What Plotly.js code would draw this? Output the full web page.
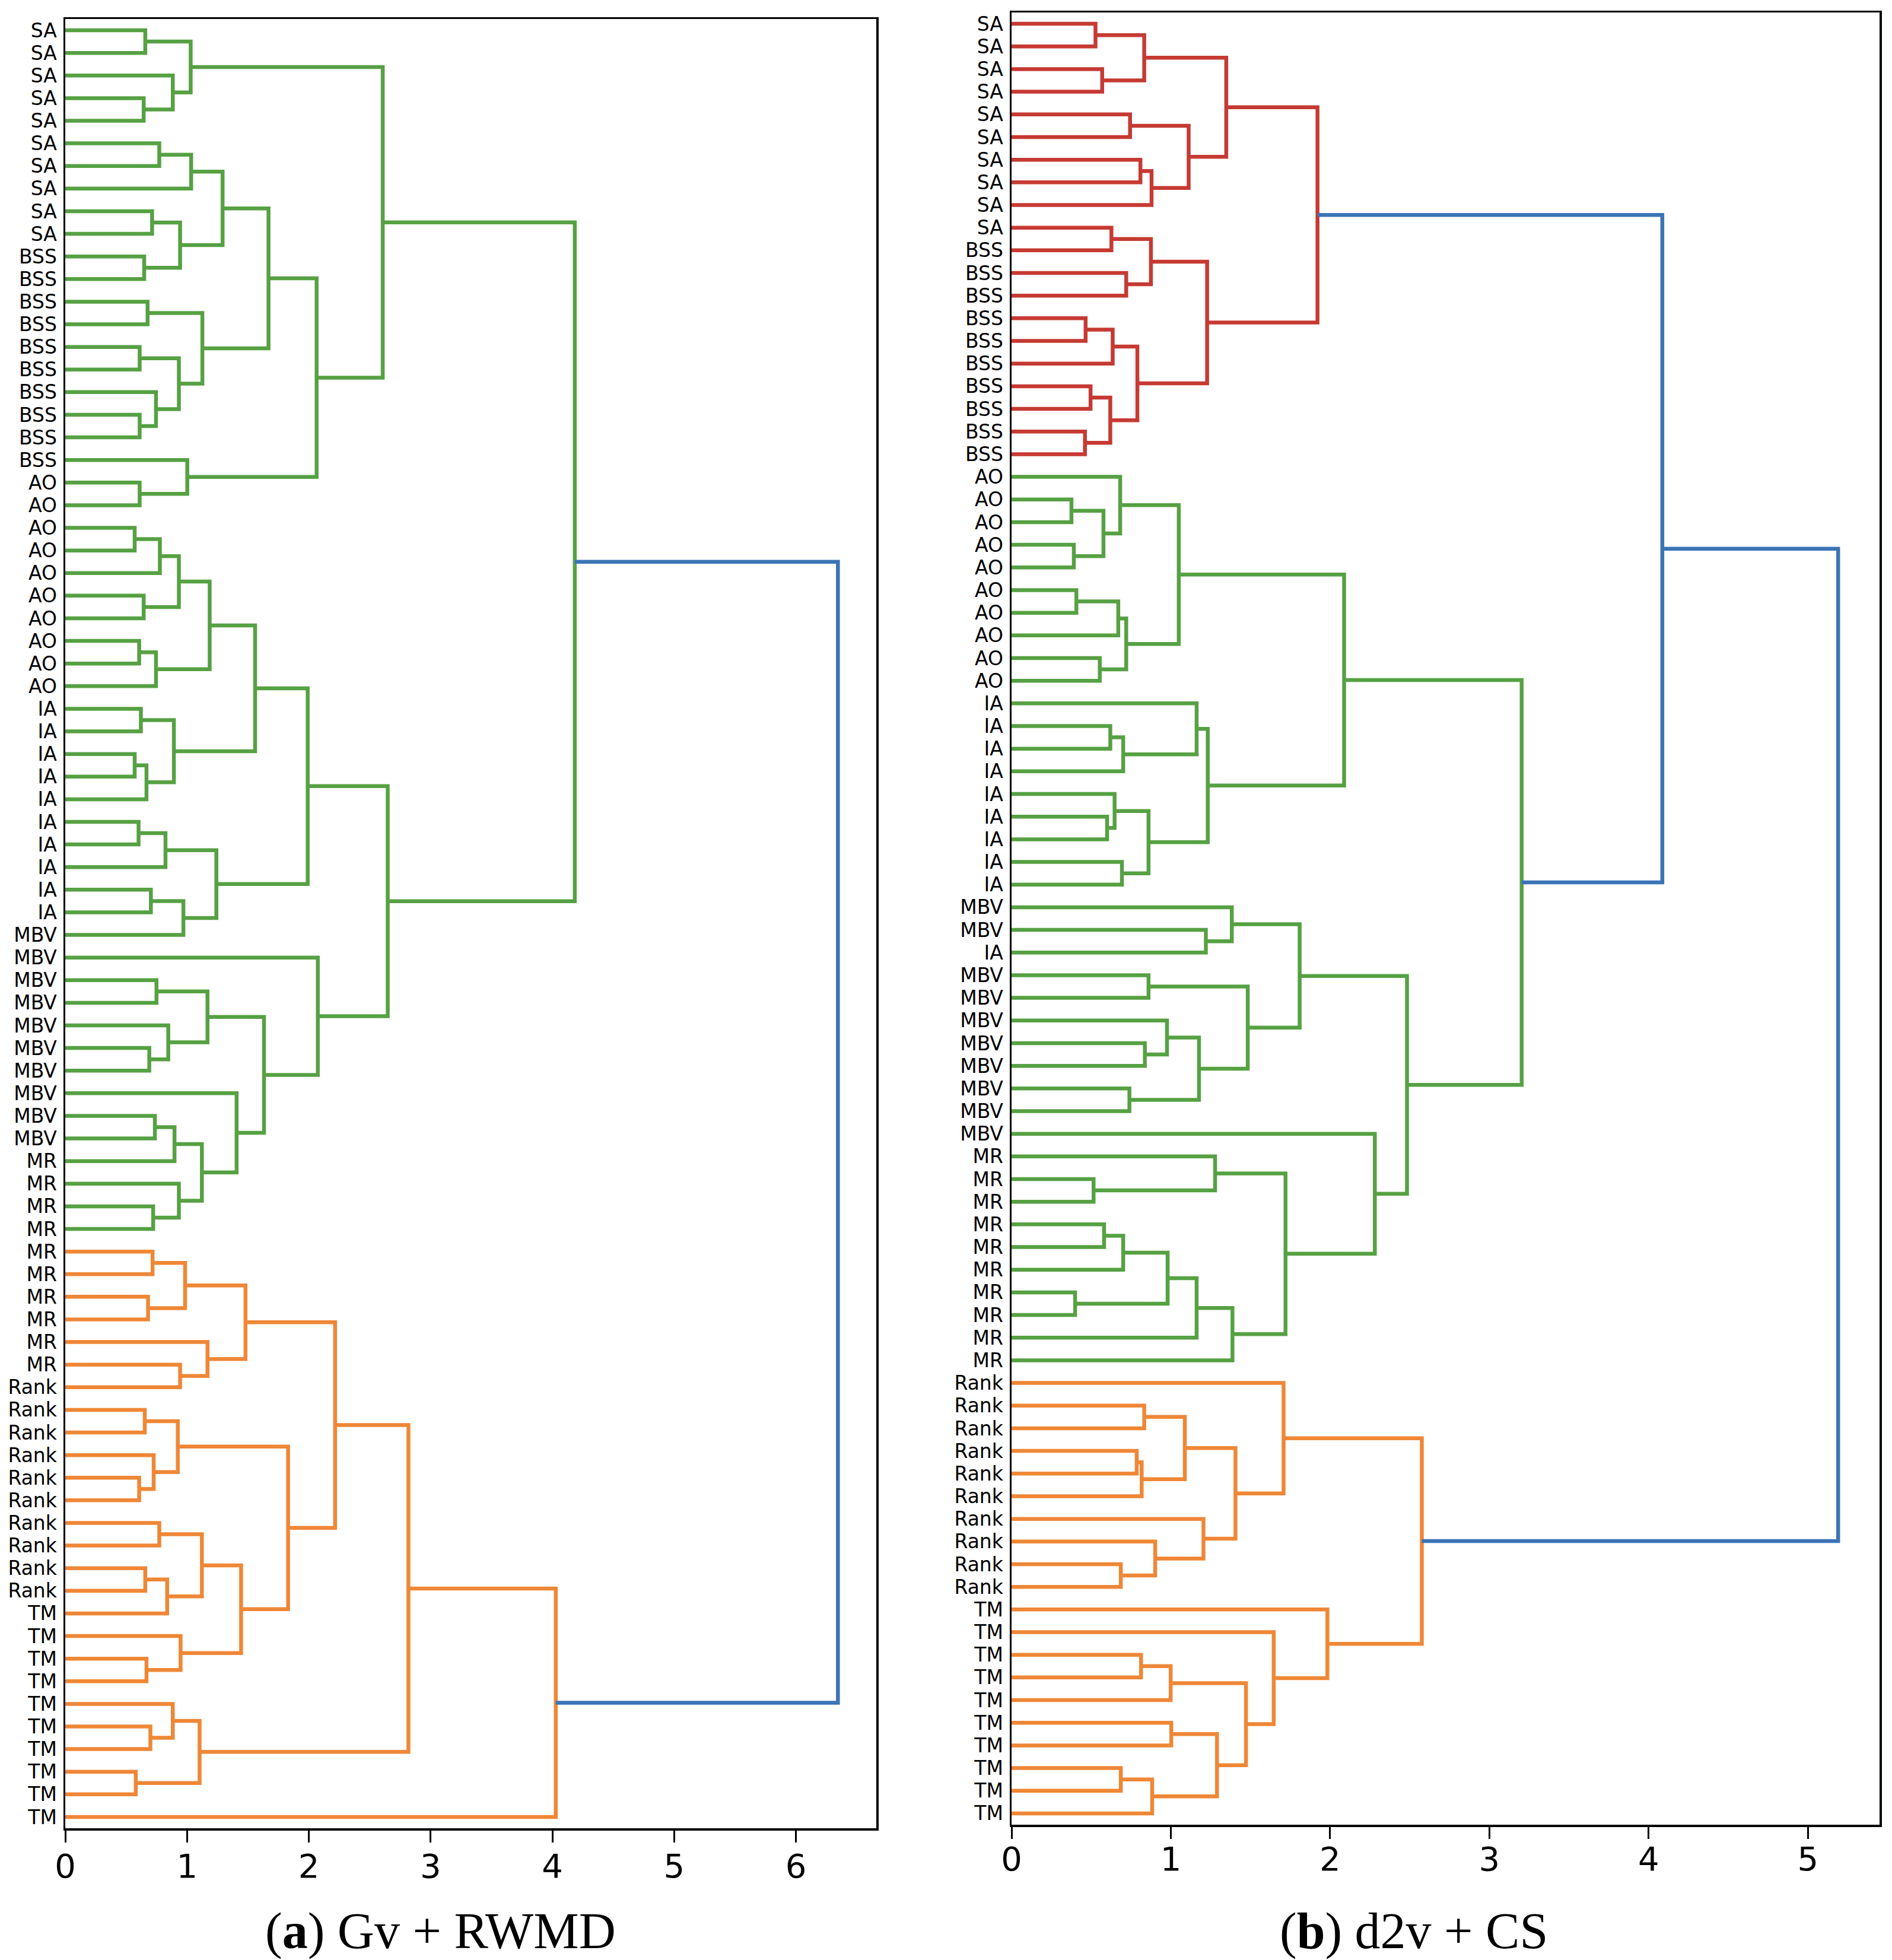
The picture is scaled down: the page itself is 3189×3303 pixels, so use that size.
<!DOCTYPE html>
<html>
<head>
<meta charset="utf-8">
<script src="https://cdn.plot.ly/plotly-3.0.1.min.js"></script>
<style>html,body{margin:0;padding:0;background:#fff;}</style>
</head>
<body>
<div id="chart" style="width:3189px;height:3303px;"></div>
<script>
// ---------- DATA ----------
// Leaf labels (top to bottom)
const leavesA = [
  "SA","SA","SA","SA","SA","SA","SA","SA","SA","SA",
  "BSS","BSS","BSS","BSS","BSS","BSS","BSS","BSS","BSS","BSS",
  "AO","AO","AO","AO","AO","AO","AO","AO","AO","AO",
  "IA","IA","IA","IA","IA","IA","IA","IA","IA","IA",
  "MBV","MBV","MBV","MBV","MBV","MBV","MBV","MBV","MBV","MBV",
  "MR","MR","MR","MR","MR","MR","MR","MR","MR","MR",
  "Rank","Rank","Rank","Rank","Rank","Rank","Rank","Rank","Rank","Rank",
  "TM","TM","TM","TM","TM","TM","TM","TM","TM","TM"
];
const leavesB = [
  "SA","SA","SA","SA","SA","SA","SA","SA","SA","SA",
  "BSS","BSS","BSS","BSS","BSS","BSS","BSS","BSS","BSS","BSS",
  "AO","AO","AO","AO","AO","AO","AO","AO","AO","AO",
  "IA","IA","IA","IA","IA","IA","IA","IA","IA",
  "MBV","MBV","IA",
  "MBV","MBV","MBV","MBV","MBV","MBV","MBV","MBV",
  "MR","MR","MR","MR","MR","MR","MR","MR","MR","MR",
  "Rank","Rank","Rank","Rank","Rank","Rank","Rank","Rank","Rank","Rank",
  "TM","TM","TM","TM","TM","TM","TM","TM","TM","TM"
];
// Merges (linkage style): [childA, childB, distance, cluster]
// child index < 80 -> leaf, >= 80 -> merge (index - 80)
const mergesA = [
  [0,1,0.657,"g"],[3,4,0.644,"g"],[2,81,0.883,"g"],[80,82,1.030,"g"],
  [5,6,0.772,"g"],[84,7,1.034,"g"],[8,9,0.713,"g"],[10,11,0.648,"g"],
  [86,87,0.943,"g"],[85,88,1.292,"g"],[12,13,0.676,"g"],[14,15,0.611,"g"],
  [17,18,0.611,"g"],[16,92,0.745,"g"],[91,93,0.933,"g"],[90,94,1.126,"g"],
  [89,95,1.669,"g"],[20,21,0.611,"g"],[19,97,1.002,"g"],[96,98,2.064,"g"],
  [83,99,2.607,"g"],[22,23,0.570,"g"],[101,24,0.777,"g"],[25,26,0.644,"g"],
  [102,103,0.933,"g"],[27,28,0.607,"g"],[105,29,0.745,"g"],[104,106,1.186,"g"],
  [30,31,0.621,"g"],[32,33,0.570,"g"],[109,34,0.667,"g"],[108,110,0.892,"g"],
  [107,111,1.559,"g"],[35,36,0.602,"g"],[113,37,0.823,"g"],[38,39,0.703,"g"],
  [115,40,0.970,"g"],[114,116,1.241,"g"],[112,117,1.991,"g"],[42,43,0.749,"g"],
  [45,46,0.690,"g"],[44,120,0.846,"g"],[119,121,1.168,"g"],[48,49,0.736,"g"],
  [123,50,0.897,"g"],[52,53,0.722,"g"],[51,125,0.933,"g"],[124,126,1.122,"g"],
  [47,127,1.407,"g"],[122,128,1.632,"g"],[41,129,2.074,"g"],[118,130,2.648,"g"],
  [100,131,4.184,"g"],
  [54,55,0.717,"o"],[56,57,0.680,"o"],[133,134,0.984,"o"],[59,60,0.943,"o"],
  [58,136,1.168,"o"],[135,137,1.480,"o"],[61,62,0.653,"o"],[64,65,0.607,"o"],
  [63,140,0.726,"o"],[139,141,0.924,"o"],[66,67,0.772,"o"],[68,69,0.657,"o"],
  [144,70,0.837,"o"],[143,145,1.122,"o"],[72,73,0.667,"o"],[71,147,0.947,"o"],
  [146,148,1.444,"o"],[142,149,1.830,"o"],[138,150,2.216,"o"],[75,76,0.699,"o"],
  [74,152,0.883,"o"],[77,78,0.579,"o"],[153,154,1.103,"o"],[151,155,2.818,"o"],
  [156,79,4.028,"o"],
  [132,157,6.345,"b"]
];
const mergesB = [
  [0,1,0.527,"r"],[2,3,0.569,"r"],[80,81,0.833,"r"],[4,5,0.744,"r"],
  [6,7,0.809,"r"],[84,8,0.879,"r"],[83,85,1.112,"r"],[82,86,1.348,"r"],
  [9,10,0.627,"r"],[11,12,0.720,"r"],[88,89,0.875,"r"],[13,14,0.465,"r"],
  [91,15,0.635,"r"],[16,17,0.496,"r"],[18,19,0.461,"r"],[93,94,0.620,"r"],
  [92,95,0.790,"r"],[90,96,1.228,"r"],[87,97,1.921,"r"],
  [21,22,0.376,"g"],[23,24,0.391,"g"],[99,100,0.577,"g"],[20,101,0.682,"g"],
  [25,26,0.407,"g"],[103,27,0.670,"g"],[28,29,0.554,"g"],[104,105,0.720,"g"],
  [102,106,1.050,"g"],[31,32,0.620,"g"],[108,33,0.701,"g"],[30,109,1.162,"g"],
  [35,36,0.600,"g"],[34,111,0.647,"g"],[37,38,0.693,"g"],[112,113,0.860,"g"],
  [110,114,1.232,"g"],[107,115,2.088,"g"],[40,41,1.220,"g"],[39,117,1.383,"g"],
  [42,43,0.860,"g"],[45,46,0.837,"g"],[44,120,0.976,"g"],[47,48,0.740,"g"],
  [121,122,1.177,"g"],[119,123,1.483,"g"],[118,124,1.809,"g"],[51,52,0.515,"g"],
  [50,126,1.278,"g"],[53,54,0.581,"g"],[128,55,0.701,"g"],[56,57,0.399,"g"],
  [129,130,0.980,"g"],[131,58,1.162,"g"],[132,59,1.387,"g"],[127,133,1.720,"g"],
  [49,134,2.281,"g"],[125,135,2.483,"g"],[116,136,3.203,"g"],
  [61,62,0.833,"o"],[63,64,0.786,"o"],[139,65,0.817,"o"],[138,140,1.088,"o"],
  [68,69,0.686,"o"],[67,142,0.902,"o"],[66,143,1.205,"o"],[141,144,1.406,"o"],
  [60,145,1.708,"o"],[72,73,0.813,"o"],[147,74,0.999,"o"],[75,76,1.003,"o"],
  [77,78,0.686,"o"],[150,79,0.883,"o"],[149,151,1.290,"o"],[148,152,1.472,"o"],
  [71,153,1.646,"o"],[70,154,1.983,"o"],[146,155,2.576,"o"],
  [98,137,4.086,"b"],[157,156,5.190,"b"]
];
const xTicksA = [0,1,2,3,4,5,6];
const xTicksB = [0,1,2,3,4,5];
const captionA = "(<b>a</b>) Gv + RWMD";
const captionB = "(<b>b</b>) d2v + CS";

// ---------- STYLE ----------
const clusterColor = {g:"#56a143", o:"#ef8736", b:"#3b74b6", r:"#c63a33"};
const LW = 6.5;

function buildTraces(labels, merges, xa, ya) {
  const n = labels.length;
  const pos = [], hgt = [];
  for (let i = 0; i < n; i++) { pos[i] = i; hgt[i] = 0; }
  const segs = {};
  const order = [];
  merges.forEach((m, k) => {
    const [a, b, h, c] = m;
    const id = n + k;
    pos[id] = (pos[a] + pos[b]) / 2;
    hgt[id] = h;
    if (!segs[c]) { segs[c] = {x: [], y: []}; order.push(c); }
    segs[c].x.push(hgt[a], h, h, hgt[b], null);
    segs[c].y.push(pos[a], pos[a], pos[b], pos[b], null);
  });
  return order.map(c => ({
    type: "scatter", mode: "lines", x: segs[c].x, y: segs[c].y,
    xaxis: xa, yaxis: ya, hoverinfo: "skip", showlegend: false,
    line: {color: clusterColor[c], width: LW, shape: "linear"},
    connectgaps: false
  }));
}

const traces = [].concat(
  buildTraces(leavesA, mergesA, "x", "y"),
  buildTraces(leavesB, mergesB, "x2", "y2")
);

const W = 3189, H = 3303;
const tickFont = {family: "DejaVu Sans", size: 56, color: "#000"};
const leafFont = {family: "DejaVu Sans", size: 33, color: "#000"};

function xAxis(domainPx, maxV, ticks, anchor, standoff) {
  return {
    domain: [domainPx[0] / W, domainPx[1] / W],
    range: [0, maxV], anchor: anchor,
    tickmode: "array", tickvals: ticks, ticktext: ticks.map(String),
    ticks: "outside", ticklen: 20, tickwidth: 3, tickcolor: "#000",
    tickfont: tickFont, ticklabelstandoff: standoff,
    showgrid: false, zeroline: false,
    showline: true, mirror: true, linecolor: "#000", linewidth: 3.5
  };
}
function yAxis(domainPx, labels, anchor) {
  return {
    domain: [1 - domainPx[1] / H, 1 - domainPx[0] / H],
    range: [labels.length - 0.5, -0.5], anchor: anchor,
    tickmode: "array", tickvals: labels.map((_, i) => i), ticktext: labels,
    ticks: "", tickfont: leafFont, ticklabelstandoff: 4,
    showgrid: false, zeroline: false,
    showline: true, mirror: true, linecolor: "#000", linewidth: 3.5
  };
}

const layout = {
  width: W, height: H,
  margin: {l: 0, r: 0, t: 0, b: 0},
  paper_bgcolor: "#fff", plot_bgcolor: "#fff",
  showlegend: false,
  xaxis: xAxis([110, 1477], 6.66, xTicksA, "y", -8),
  yaxis: yAxis([32, 3081], leavesA, "x"),
  xaxis2: xAxis([1705, 3168], 5.45, xTicksB, "y2", -14),
  yaxis2: yAxis([21, 3075], leavesB, "x2"),
  annotations: [
    {text: captionA, xref: "paper", yref: "paper", x: 742 / W, y: 1 - 3254 / H,
     xanchor: "center", yanchor: "middle", showarrow: false,
     font: {family: "Liberation Serif", size: 86, color: "#000"}},
    {text: captionB, xref: "paper", yref: "paper", x: 2383 / W, y: 1 - 3254 / H,
     xanchor: "center", yanchor: "middle", showarrow: false,
     font: {family: "Liberation Serif", size: 86, color: "#000"}}
  ]
};

Plotly.newPlot("chart", traces, layout, {staticPlot: true, displayModeBar: false});
</script>
</body>
</html>
